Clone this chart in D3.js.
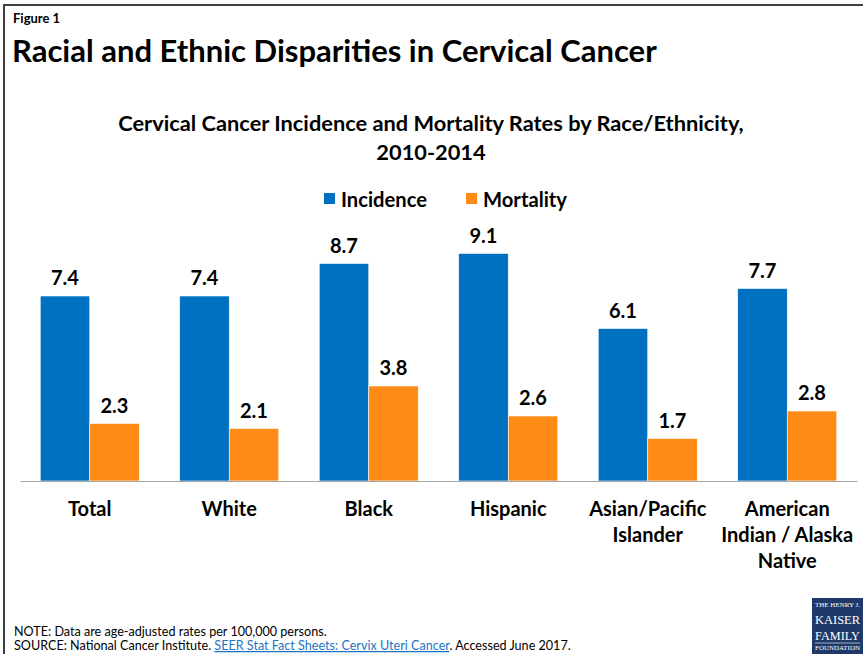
<!DOCTYPE html>
<html>
<head>
<meta charset="utf-8">
<script src="https://cdn.jsdelivr.net/npm/d3@7/dist/d3.min.js"></script>
<style>
  body { margin: 0; background: #fff; }
  svg text { font-family: Lato, "Open Sans", sans-serif; fill: #000; }
</style>
</head>
<body>
<script>
var categories = ["Total", "White", "Black", "Hispanic", "Asian/Pacific Islander", "American Indian / Alaska Native"];
var categoryLines = [["Total"], ["White"], ["Black"], ["Hispanic"], ["Asian/Pacific", "Islander"], ["American", "Indian / Alaska", "Native"]];
var incidence = [7.4, 7.4, 8.7, 9.1, 6.1, 7.7];
var mortality = [2.3, 2.1, 3.8, 2.6, 1.7, 2.8];
var seriesNames = ["Incidence", "Mortality"];
var seriesColors = ["#0070c0", "#ff8b17"];

var W = 863, H = 654;
var svg = d3.select("body").append("svg")
    .attr("width", W)
    .attr("height", H);

// frame (top + left only, the rest is cropped off)
svg.append("path")
   .attr("d", "M4,654 V5 H863")
   .attr("fill", "none")
   .attr("stroke", "#3f3f3f")
   .attr("stroke-width", 2);

svg.append("text")
   .attr("x", 13).attr("y", 23)
   .style("font-size", "13px").style("font-weight", "bold")
   .text("Figure 1");

svg.append("text")
   .attr("x", 12).attr("y", 62)
   .style("font-size", "31px").style("font-weight", "bold")
   .text("Racial and Ethnic Disparities in Cervical Cancer");

svg.append("text")
   .attr("x", 431).attr("y", 131)
   .attr("text-anchor", "middle")
   .style("font-size", "21.8px").style("font-weight", "bold")
   .text("Cervical Cancer Incidence and Mortality Rates by Race/Ethnicity,");

svg.append("text")
   .attr("x", 431).attr("y", 160)
   .attr("text-anchor", "middle")
   .style("font-size", "21.8px").style("font-weight", "bold")
   .text("2010-2014");

// legend
var legendX = [324, 466];
var legend = svg.selectAll(".legend")
   .data(seriesNames)
   .enter().append("g")
   .attr("class", "legend")
   .attr("transform", (d, i) => "translate(" + legendX[i] + ",193)");
legend.append("rect")
   .attr("width", 11).attr("height", 11)
   .attr("fill", (d, i) => seriesColors[i]);
legend.append("text")
   .attr("x", 17).attr("y", 14)
   .style("font-size", "20.2px").style("font-weight", "bold")
   .text(d => d);

// scales
var xScale = d3.scaleBand()
   .domain(categories)
   .range([20, 857])
   .paddingInner(0.29)
   .paddingOuter(0.145);

var xSub = d3.scaleBand()
   .domain(seriesNames)
   .range([0, xScale.bandwidth()]);

var yScale = d3.scaleLinear()
   .domain([0, 10])
   .range([481, 231]);

var rows = categories.map((c, i) => ({cat: c, vals: [incidence[i], mortality[i]]}));

var groups = svg.selectAll(".group")
   .data(rows)
   .enter().append("g")
   .attr("class", "group")
   .attr("transform", d => "translate(" + xScale(d.cat) + ",0)");

groups.selectAll("rect")
   .data(d => d.vals.map((v, j) => ({series: seriesNames[j], v: v, j: j})))
   .enter().append("rect")
   .attr("x", d => xSub(d.series))
   .attr("y", d => yScale(d.v))
   .attr("width", xSub.bandwidth())
   .attr("height", d => yScale(0) - yScale(d.v))
   .attr("fill", d => seriesColors[d.j])
   .attr("stroke", "#fff")
   .attr("stroke-width", 0.6);

groups.selectAll(".val")
   .data(d => d.vals.map((v, j) => ({series: seriesNames[j], v: v})))
   .enter().append("text")
   .attr("class", "val")
   .attr("x", d => xSub(d.series) + xSub.bandwidth() / 2)
   .attr("y", d => yScale(d.v) - 11)
   .attr("text-anchor", "middle")
   .style("font-size", "20px").style("font-weight", "bold")
   .text(d => d.v.toFixed(1));

// x axis
var xAxis = d3.axisBottom(xScale).tickSize(0).tickFormat("");
var axisG = svg.append("g")
   .attr("transform", "translate(0," + yScale(0) + ")")
   .call(xAxis);
axisG.select(".domain").attr("stroke", "#a6a6a6").attr("stroke-width", 1.2);

var labels = svg.selectAll(".cat")
   .data(categories)
   .enter().append("text")
   .attr("class", "cat")
   .attr("text-anchor", "middle")
   .style("font-size", "20px").style("font-weight", "bold");
labels.selectAll("tspan")
   .data((d, i) => categoryLines[i].map(t => ({t: t, c: d})))
   .enter().append("tspan")
   .attr("x", d => xScale(d.c) + xScale.bandwidth() / 2)
   .attr("y", (d, k) => 516 + k * 26)
   .text(d => d.t);

// notes
svg.append("text")
   .attr("x", 14).attr("y", 636)
   .style("font-size", "12.6px")
   .text("NOTE: Data are age-adjusted rates per 100,000 persons.");

var src = svg.append("text")
   .attr("x", 14).attr("y", 650)
   .style("font-size", "12.6px");
src.append("tspan").text("SOURCE: National Cancer Institute. ");
src.append("tspan")
   .style("fill", "#1f73c4")
   .style("text-decoration", "underline")
   .text("SEER Stat Fact Sheets: Cervix Uteri Cancer");
src.append("tspan").text(". Accessed June 2017.");

// logo
var logo = svg.append("g").attr("transform", "translate(812,598)");
logo.append("rect").attr("width", 51).attr("height", 56).attr("fill", "#1f3a68");
var logoText = [
  {t: "THE HENRY J.", y: 9, s: 5.5},
  {t: "KAISER", y: 26, s: 12.5},
  {t: "FAMILY", y: 42, s: 12},
  {t: "FOUNDATION", y: 52, s: 5.5}
];
logo.selectAll("text")
   .data(logoText)
   .enter().append("text")
   .attr("x", 25.5).attr("y", d => d.y)
   .attr("text-anchor", "middle")
   .attr("textLength", 45)
   .attr("lengthAdjust", "spacingAndGlyphs")
   .style("font-family", "'Liberation Serif', serif")
   .style("font-size", d => d.s + "px")
   .style("fill", "#fff")
   .text(d => d.t);
logo.append("line").attr("x1", 3).attr("x2", 48).attr("y1", 45).attr("y2", 45)
   .attr("stroke", "#fff").attr("stroke-width", 0.6);
</script>
</body>
</html>
